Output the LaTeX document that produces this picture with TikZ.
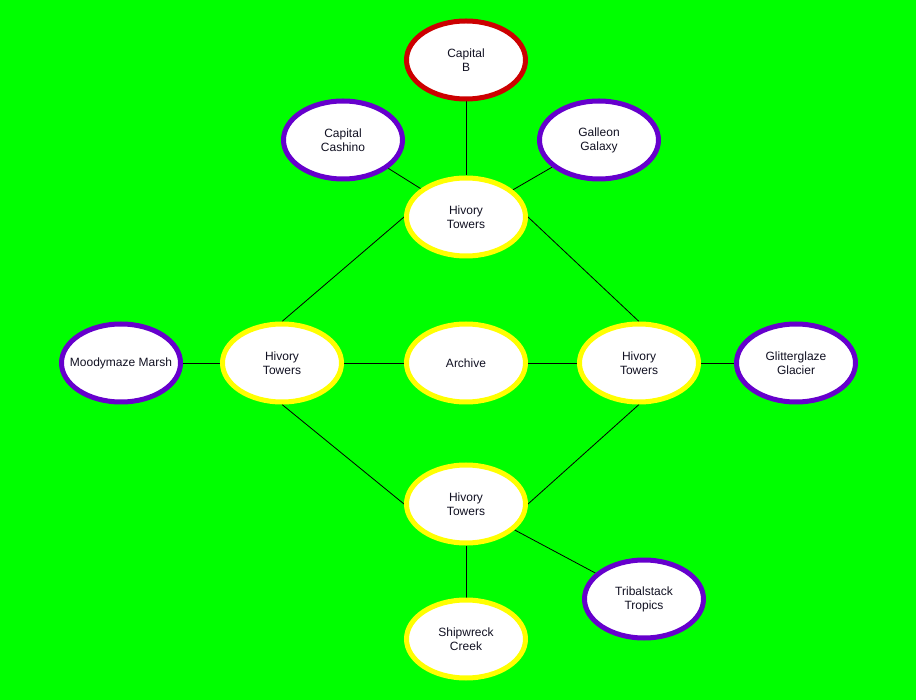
\documentclass[tikz,border=0pt]{standalone}
\usepackage{fontspec}
\setmainfont{Liberation Sans}
\usetikzlibrary{shapes.geometric,backgrounds}
\definecolor{bggreen}{HTML}{00FF00}
\definecolor{redline}{HTML}{CC0000}
\definecolor{purpleline}{HTML}{6600CC}
\definecolor{yellowline}{HTML}{FFFF00}
\definecolor{txt}{HTML}{111122}
\tikzset{
  place/.style={ellipse, draw, line width=5pt, fill=white, minimum width=119pt, minimum height=78pt, inner sep=0pt, align=center, text=txt, font=\fontsize{12}{14}\selectfont},
  redplace/.style={place, draw=redline},
  purpleplace/.style={place, draw=purpleline},
  yellowplace/.style={place, draw=yellowline},
  link/.style={draw=black, line width=0.8pt}
}
\begin{document}
\begin{tikzpicture}[x=1pt,y=-1pt]
\begin{pgfonlayer}{background}
\fill[bggreen] (0,0) rectangle (916,700);
\end{pgfonlayer}
\useasboundingbox (0,0) rectangle (916,700);
\node[redplace] (capb) at (466,60) {Capital\\B};
\node[purpleplace] (cashino) at (343,140) {Capital\\Cashino};
\node[purpleplace] (galleon) at (599,140) {Galleon\\Galaxy};
\node[yellowplace] (htop) at (466,217) {Hivory\\Towers};
\node[yellowplace] (hleft) at (282,363) {Hivory\\Towers};
\node[yellowplace] (archive) at (466,363) {Archive};
\node[yellowplace] (hright) at (639,363) {Hivory\\Towers};
\node[purpleplace, inner xsep=-25pt] (moody) at (121,363) {Moodymaze Marsh};
\node[purpleplace] (glitter) at (796,363) {Glitterglaze\\Glacier};
\node[yellowplace] (hbottom) at (466,504) {Hivory\\Towers};
\node[purpleplace] (tribal) at (644,599) {Tribalstack\\Tropics};
\node[yellowplace] (ship) at (466,639) {Shipwreck\\Creek};
\begin{pgfonlayer}{background}
\draw[link] (capb) -- (htop);
\draw[link] (cashino) -- (htop);
\draw[link] (galleon) -- (htop);
\draw[link] (htop.west) -- (hleft.north);
\draw[link] (htop.east) -- (hright.north);
\draw[link] (moody) -- (hleft);
\draw[link] (hleft) -- (archive);
\draw[link] (archive) -- (hright);
\draw[link] (hright) -- (glitter);
\draw[link] (hleft.south) -- (hbottom.west);
\draw[link] (hright.south) -- (hbottom.east);
\draw[link] (hbottom) -- (ship);
\draw[link] (hbottom) -- (tribal);
\end{pgfonlayer}
\end{tikzpicture}
\end{document}
